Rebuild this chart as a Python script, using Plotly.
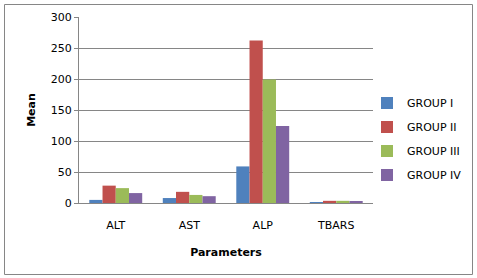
import plotly.graph_objects as go

categories = ["ALT", "AST", "ALP", "TBARS"]
groups = ["GROUP I", "GROUP II", "GROUP III", "GROUP IV"]
group_i = [5, 8, 59, 0.3]
group_ii = [28, 18, 262, 3.5]
group_iii = [24, 13, 199, 3.5]
group_iv = [16, 11, 124, 2]
colors = ["#4F81BD", "#C0504D", "#9BBB59", "#8064A2"]
y_ticks = [0, 50, 100, 150, 200, 250, 300]

series = [group_i, group_ii, group_iii, group_iv]
font = "Verdana, DejaVu Sans, sans-serif"

W, H = 477, 278
L, R, T, B = 79, 373, 17, 203
pw, ph = R - L, B - T

def px(x):
    return (x - L) / pw

def py(y):
    return (B - y) / ph

fig = go.Figure()
legend_ys = [103, 127, 151, 175]
legend_layouts = {}
for i, (name, vals, c) in enumerate(zip(groups, series, colors)):
    lname = "legend" if i == 0 else f"legend{i+1}"
    fig.add_trace(go.Bar(x=categories, y=vals, name=name, legend=lname,
                         marker=dict(color=c, line=dict(width=0))))
    legend_layouts[lname] = dict(
        xref="paper", yref="paper",
        x=px(367), y=py(legend_ys[i]), xanchor="left", yanchor="middle",
        font=dict(family=font, size=11), itemwidth=30,
        bgcolor="rgba(0,0,0,0)", borderwidth=0)

fig.update_layout(
    width=W, height=H,
    margin=dict(l=L, r=W - R, t=T, b=H - B, pad=0, autoexpand=False),
    paper_bgcolor="white", plot_bgcolor="white",
    barmode="group", bargap=0.28, bargroupgap=0,
    font=dict(family=font, size=11, color="black"),
    showlegend=True,
    xaxis=dict(showgrid=False, showline=True, linecolor="#868686", linewidth=1,
               ticks="", tickfont=dict(size=11), ticklabelstandoff=12, automargin=False,
               title=dict(text="<b>Parameters</b>", font=dict(size=11), standoff=17)),
    yaxis=dict(range=[0, 300], tickvals=y_ticks, showgrid=True, gridcolor="#868686",
               gridwidth=1, showline=True, linecolor="#868686", linewidth=1,
               ticks="outside", ticklen=4, tickcolor="#868686", tickfont=dict(size=11),
               zeroline=False, automargin=False,
               title=dict(text="<b>Mean</b>", font=dict(size=11), standoff=12)),
    shapes=[dict(type="rect", xref="paper", yref="paper",
                 x0=px(4.5), x1=px(472.5), y0=py(274.5), y1=py(4.5),
                 line=dict(color="#868686", width=1), layer="below")],
    **legend_layouts,
)

fig.write_html(
    "out.html",
    config={"displayModeBar": False},
    post_script="document.body.style.margin='0px';document.body.style.overflow='hidden';",
)
